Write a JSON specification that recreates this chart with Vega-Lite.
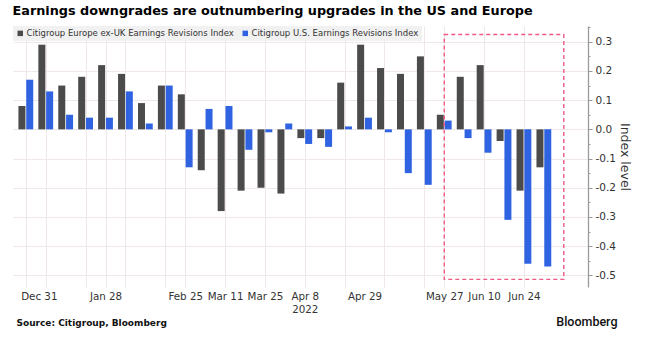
{
  "$schema": "https://vega.github.io/schema/vega-lite/v6.json",
  "width": 575,
  "height": 261,
  "autosize": {"type": "none"},
  "padding": {"left": 13, "top": 26, "right": 59, "bottom": 72},
  "background": "white",
  "title": {
    "text": "Earnings downgrades are outnumbering upgrades in the US and Europe",
    "anchor": "start",
    "frame": "group",
    "font": "DejaVu Sans",
    "fontSize": 12.8,
    "fontWeight": "bold",
    "color": "#000000",
    "baseline": "alphabetic",
    "offset": 11,
    "dy": 13,
    "dx": -0.5
  },
  "config": {"view": {"stroke": null}},
  "data": {
    "values": [
      {"date": "2021-12-31", "series": "Europe ex-UK", "value": 0.08},
      {"date": "2022-01-07", "series": "Europe ex-UK", "value": 0.29},
      {"date": "2022-01-14", "series": "Europe ex-UK", "value": 0.15},
      {"date": "2022-01-21", "series": "Europe ex-UK", "value": 0.18},
      {"date": "2022-01-28", "series": "Europe ex-UK", "value": 0.22},
      {"date": "2022-02-04", "series": "Europe ex-UK", "value": 0.19},
      {"date": "2022-02-11", "series": "Europe ex-UK", "value": 0.09},
      {"date": "2022-02-18", "series": "Europe ex-UK", "value": 0.15},
      {"date": "2022-02-25", "series": "Europe ex-UK", "value": 0.12},
      {"date": "2022-03-04", "series": "Europe ex-UK", "value": -0.14},
      {"date": "2022-03-11", "series": "Europe ex-UK", "value": -0.28},
      {"date": "2022-03-18", "series": "Europe ex-UK", "value": -0.21},
      {"date": "2022-03-25", "series": "Europe ex-UK", "value": -0.20},
      {"date": "2022-04-01", "series": "Europe ex-UK", "value": -0.22},
      {"date": "2022-04-08", "series": "Europe ex-UK", "value": -0.03},
      {"date": "2022-04-15", "series": "Europe ex-UK", "value": -0.03},
      {"date": "2022-04-22", "series": "Europe ex-UK", "value": 0.16},
      {"date": "2022-04-29", "series": "Europe ex-UK", "value": 0.29},
      {"date": "2022-05-06", "series": "Europe ex-UK", "value": 0.21},
      {"date": "2022-05-13", "series": "Europe ex-UK", "value": 0.19},
      {"date": "2022-05-20", "series": "Europe ex-UK", "value": 0.25},
      {"date": "2022-05-27", "series": "Europe ex-UK", "value": 0.05},
      {"date": "2022-06-03", "series": "Europe ex-UK", "value": 0.18},
      {"date": "2022-06-10", "series": "Europe ex-UK", "value": 0.22},
      {"date": "2022-06-17", "series": "Europe ex-UK", "value": -0.04},
      {"date": "2022-06-24", "series": "Europe ex-UK", "value": -0.21},
      {"date": "2022-07-01", "series": "Europe ex-UK", "value": -0.13},
      {"date": "2021-12-31", "series": "U.S.", "value": 0.17},
      {"date": "2022-01-07", "series": "U.S.", "value": 0.13},
      {"date": "2022-01-14", "series": "U.S.", "value": 0.05},
      {"date": "2022-01-21", "series": "U.S.", "value": 0.04},
      {"date": "2022-01-28", "series": "U.S.", "value": 0.04},
      {"date": "2022-02-04", "series": "U.S.", "value": 0.13},
      {"date": "2022-02-11", "series": "U.S.", "value": 0.02},
      {"date": "2022-02-18", "series": "U.S.", "value": 0.15},
      {"date": "2022-02-25", "series": "U.S.", "value": -0.13},
      {"date": "2022-03-04", "series": "U.S.", "value": 0.07},
      {"date": "2022-03-11", "series": "U.S.", "value": 0.08},
      {"date": "2022-03-18", "series": "U.S.", "value": -0.07},
      {"date": "2022-03-25", "series": "U.S.", "value": -0.01},
      {"date": "2022-04-01", "series": "U.S.", "value": 0.02},
      {"date": "2022-04-08", "series": "U.S.", "value": -0.05},
      {"date": "2022-04-15", "series": "U.S.", "value": -0.06},
      {"date": "2022-04-22", "series": "U.S.", "value": 0.01},
      {"date": "2022-04-29", "series": "U.S.", "value": 0.04},
      {"date": "2022-05-06", "series": "U.S.", "value": -0.01},
      {"date": "2022-05-13", "series": "U.S.", "value": -0.15},
      {"date": "2022-05-20", "series": "U.S.", "value": -0.19},
      {"date": "2022-05-27", "series": "U.S.", "value": 0.03},
      {"date": "2022-06-03", "series": "U.S.", "value": -0.03},
      {"date": "2022-06-10", "series": "U.S.", "value": -0.08},
      {"date": "2022-06-17", "series": "U.S.", "value": -0.31},
      {"date": "2022-06-24", "series": "U.S.", "value": -0.46},
      {"date": "2022-07-01", "series": "U.S.", "value": -0.47}
    ]
  },
  "resolve": {"axis": {"x": "independent", "y": "independent"}},
  "layer": [
    {
      "transform": [{"filter": "datum.series == 'Europe ex-UK'"}],
      "mark": {"type": "bar", "width": 7, "xOffset": -3.9},
      "encoding": {
        "x": {
          "field": "date",
          "type": "temporal",
          "scale": {"type": "utc", "domain": [1640671200000, 1657821600000]},
          "axis": {
            "orient": "bottom",
            "values": [1640908800000, 1643328000000, 1645747200000, 1646956800000, 1648166400000, 1649376000000, 1651190400000, 1653609600000, 1654819200000, 1656028800000],
            "grid": false,
            "ticks": false,
            "domain": false,
            "labelPadding": 4,
            "labelBaseline": "top",
            "labelFont": "DejaVu Sans",
            "labelFontSize": 10.3,
            "labelColor": "#333333",
            "labelLineHeight": 13,
            "labelOverlap": false,
            "labelFlush": false,
            "labelBound": false,
            "labelOffset": {"condition": {"test": "datum.value < 1641000000000", "value": 13}, "value": 0},
            "labelExpr": "utcFormat(datum.value, '%b %-d') == 'Apr 8' ? ['Apr 8', '2022'] : utcFormat(datum.value, '%b %-d')",
            "title": "Source: Citigroup, Bloomberg",
            "titleAnchor": "start",
            "titleAlign": "left",
            "titleX": 3,
            "titleY": 38,
            "titleBaseline": "alphabetic",
            "titleFont": "DejaVu Sans",
            "titleFontSize": 9,
            "titleFontWeight": "bold",
            "titleColor": "#111111"
          }
        },
        "y": {
          "field": "value",
          "type": "quantitative",
          "scale": {"domain": [-0.54, 0.354], "nice": false, "zero": false},
          "axis": {
            "orient": "right",
            "values": [-0.5, -0.4, -0.3, -0.2, -0.1, 0, 0.1, 0.2, 0.3],
            "grid": true,
            "gridColor": "#efe7e8",
            "gridWidth": 1,
            "domain": true,
            "domainColor": "#9a9a9a",
            "domainWidth": 1.3,
            "ticks": true,
            "tickSize": 4,
            "tickColor": "#9a9a9a",
            "labelPadding": 3,
            "labelFont": "DejaVu Sans",
            "labelFontSize": 10.5,
            "labelColor": "#333333",
            "labelExpr": "replace(format(datum.value, '.1f'), '\u2212', '-')",
            "title": "Index level",
            "titleFont": "DejaVu Sans",
            "titleFontSize": 12.5,
            "titleFontWeight": "normal",
            "titleColor": "#333333",
            "titlePadding": 2
          }
        },
        "color": {
          "field": "series",
          "type": "nominal",
          "scale": {"domain": ["Europe ex-UK", "U.S."], "range": ["#4b4b4b", "#2f63e2"]},
          "legend": {
            "orient": "none",
            "legendX": 0,
            "legendY": 0,
            "direction": "horizontal",
            "fillColor": "#f1f1f1",
            "padding": 3,
            "symbolType": "square",
            "symbolSize": 30,
            "symbolStrokeWidth": 0,
            "labelFont": "DejaVu Sans",
            "labelFontSize": 8.5,
            "labelColor": "#333333",
            "labelLimit": 400,
            "labelOffset": 2,
            "columnPadding": 7,
            "title": null,
            "labelExpr": "'Citigroup ' + datum.label + ' Earnings Revisions Index'"
          }
        }
      }
    },
    {
      "transform": [{"filter": "datum.series == 'U.S.'"}],
      "mark": {"type": "bar", "width": 7, "xOffset": 3.9},
      "encoding": {
        "x": {
          "field": "date",
          "type": "temporal",
          "scale": {"type": "utc", "domain": [1640671200000, 1657821600000]},
          "axis": null
        },
        "y": {
          "field": "value",
          "type": "quantitative",
          "scale": {"domain": [-0.54, 0.354], "nice": false, "zero": false},
          "axis": null
        },
        "color": {
          "field": "series",
          "type": "nominal",
          "scale": {"domain": ["Europe ex-UK", "U.S."], "range": ["#4b4b4b", "#2f63e2"]}
        }
      }
    },
    {
      "data": {"values": [{"start": "2022-05-27", "end": "2022-07-08", "top": 0.325, "bottom": -0.514}]},
      "mark": {"type": "rect", "filled": false, "stroke": "#ee5a82", "strokeWidth": 1.4, "strokeDash": [4, 3]},
      "encoding": {
        "x": {
          "field": "start",
          "type": "temporal",
          "scale": {"type": "utc", "domain": [1640671200000, 1657821600000]},
          "axis": {
            "orient": "bottom",
            "values": [1640908800000, 1641513600000, 1642723200000, 1643328000000, 1643932800000, 1645142400000, 1645747200000, 1646956800000, 1648166400000, 1649376000000, 1650585600000, 1651795200000, 1653004800000, 1653609600000, 1654819200000, 1656028800000],
            "grid": true,
            "gridColor": "#efe7e8",
            "labels": false,
            "ticks": false,
            "domain": false,
            "title": "Bloomberg",
            "titleAnchor": "start",
            "titleAlign": "right",
            "titleX": 604,
            "titleY": 38,
            "titleBaseline": "alphabetic",
            "titleFont": "Roboto",
            "titleFontSize": 12.5,
            "titleFontWeight": 500,
            "titleColor": "#111111"
          }
        },
        "x2": {"field": "end"},
        "y": {
          "field": "top",
          "type": "quantitative",
          "scale": {"domain": [-0.54, 0.354], "nice": false, "zero": false},
          "axis": {
            "orient": "right",
            "values": [-0.45, -0.35, -0.25, -0.15, -0.05, 0.05, 0.15, 0.25, 0.35],
            "grid": false,
            "labels": false,
            "domain": false,
            "ticks": true,
            "tickSize": 2,
            "tickColor": "#9a9a9a",
            "title": null
          }
        },
        "y2": {"field": "bottom"}
      }
    }
  ]
}
